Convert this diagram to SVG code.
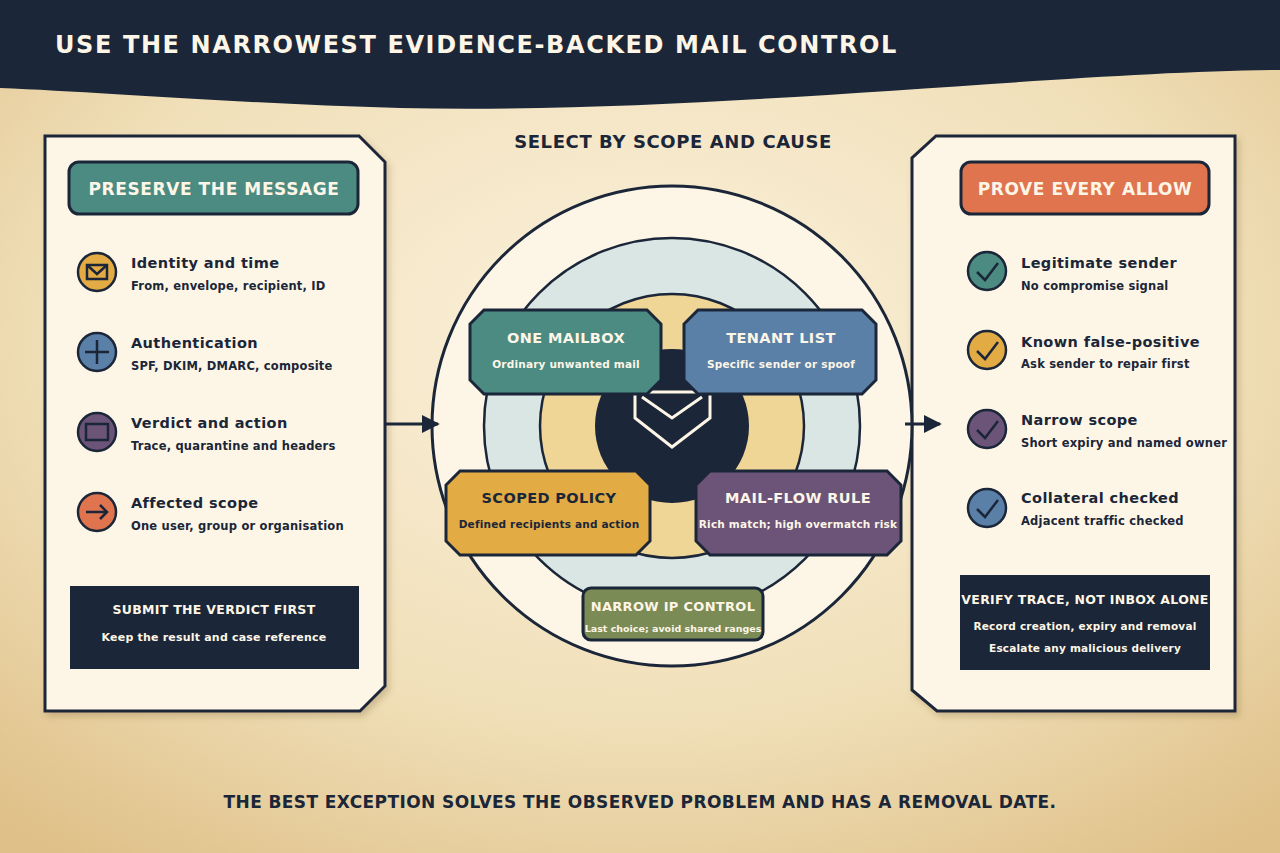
<svg xmlns="http://www.w3.org/2000/svg" width="1280" height="853" viewBox="0 0 1280 853">
<defs>
<radialGradient id="bg" cx="0.5" cy="0.4" r="0.75">
<stop offset="0" stop-color="#fbf1dc"/><stop offset="0.6" stop-color="#f0dfb8"/><stop offset="1" stop-color="#dfc088"/>
</radialGradient>
<marker id="ah" viewBox="0 0 10 10" refX="9" refY="5" markerWidth="18" markerHeight="18" orient="auto" markerUnits="userSpaceOnUse"><path d="M0,0L10,5L0,10z" fill="#1b2638"/></marker>
<filter id="sh" x="-10%" y="-10%" width="120%" height="120%"><feDropShadow dx="3" dy="4" stdDeviation="3" flood-color="#6b5020" flood-opacity="0.25"/></filter>
</defs>
<style>
text{font-family:"DejaVu Sans","Liberation Sans",sans-serif;font-weight:bold}
.panel{fill:#fdf6e7;stroke:#1b2638;stroke-width:3}
.ttl{fill:#1b2638;font-size:14.5px;letter-spacing:0.4px}
.sub{fill:#1b2638;font-size:11.5px;letter-spacing:0.2px}
.ic{stroke:#1b2638;stroke-width:2.5}
.gl{fill:none;stroke:#1b2638;stroke-width:2.5}
.node{stroke:#1b2638;stroke-width:3}
.nt{font-size:14.5px;text-anchor:middle;letter-spacing:0.4px}
.ns{font-size:10.5px;text-anchor:middle;letter-spacing:0.2px}
.w{fill:#fdf6e7}
.d{fill:#1b2638}
</style>
<rect width="1280" height="853" fill="url(#bg)"/>
<path d="M0,0H1280V70C1050,72 700,115 400,108C250,104 100,92 0,88Z" fill="#1b2638"/>
<text x="55" y="53" fill="#fdf6e7" font-size="24" letter-spacing="1.6">USE THE NARROWEST EVIDENCE-BACKED MAIL CONTROL</text>
<text x="673" y="148" fill="#1b2638" font-size="18" text-anchor="middle" letter-spacing="0.6">SELECT BY SCOPE AND CAUSE</text>
<text x="640" y="808" fill="#1b2638" font-size="17" text-anchor="middle" letter-spacing="0.4">THE BEST EXCEPTION SOLVES THE OBSERVED PROBLEM AND HAS A REMOVAL DATE.</text>

<g id="left-panel">
<path class="panel" filter="url(#sh)" d="M45,136H359L385,162V686L360,711H45Z"/>
<rect x="69" y="162" width="289" height="52" rx="10" fill="#4b8b82" stroke="#1b2638" stroke-width="3"/>
<text x="214" y="195" class="w" font-size="17" text-anchor="middle" letter-spacing="0.6">PRESERVE THE MESSAGE</text>
<circle cx="97" cy="272" r="19" fill="#e2ab44" class="ic"/>
<rect x="87" y="265" width="20" height="14" class="gl" stroke-width="2"/><path d="M87,265L97,274L107,265" class="gl" stroke-width="2"/>
<text x="131" y="268" class="ttl">Identity and time</text><text x="131" y="290" class="sub">From, envelope, recipient, ID</text>
<circle cx="97" cy="352" r="19" fill="#5a80a8" class="ic"/>
<path d="M85,352H109M97,340V364" class="gl" stroke-width="2"/>
<text x="131" y="348" class="ttl">Authentication</text><text x="131" y="370" class="sub">SPF, DKIM, DMARC, composite</text>
<circle cx="97" cy="432" r="19" fill="#6b5478" class="ic"/>
<rect x="86" y="424" width="22" height="16" class="gl" stroke-width="2"/>
<text x="131" y="428" class="ttl">Verdict and action</text><text x="131" y="450" class="sub">Trace, quarantine and headers</text>
<circle cx="97" cy="512" r="19" fill="#df744f" class="ic"/>
<path d="M86,512H107M100,505L107,512L100,519" class="gl" stroke-width="2"/>
<text x="131" y="508" class="ttl">Affected scope</text><text x="131" y="530" class="sub">One user, group or organisation</text>
<rect x="70" y="586" width="289" height="83" fill="#1b2638"/>
<text x="214" y="614" class="w" font-size="12.5" text-anchor="middle" letter-spacing="0.3">SUBMIT THE VERDICT FIRST</text>
<text x="214" y="641" class="w" font-size="11" text-anchor="middle" letter-spacing="0.2">Keep the result and case reference</text>
</g>

<g id="right-panel">
<path class="panel" filter="url(#sh)" d="M936,136H1235V711H937L912,690V158Z"/>
<rect x="961" y="162" width="248" height="52" rx="10" fill="#df744f" stroke="#1b2638" stroke-width="3"/>
<text x="1085" y="195" class="w" font-size="17" text-anchor="middle" letter-spacing="0.6">PROVE EVERY ALLOW</text>
<circle cx="987" cy="271" r="19" fill="#4b8b82" class="ic"/><path d="M977,272L985,280L998,263" class="gl"/>
<text x="1021" y="268" class="ttl">Legitimate sender</text><text x="1021" y="290" class="sub">No compromise signal</text>
<circle cx="987" cy="350" r="19" fill="#e2ab44" class="ic"/><path d="M977,351L985,359L998,342" class="gl"/>
<text x="1021" y="347" class="ttl">Known false-positive</text><text x="1021" y="368" class="sub">Ask sender to repair first</text>
<circle cx="987" cy="429" r="19" fill="#6b5478" class="ic"/><path d="M977,430L985,438L998,421" class="gl"/>
<text x="1021" y="425" class="ttl">Narrow scope</text><text x="1021" y="447" class="sub">Short expiry and named owner</text>
<circle cx="987" cy="508" r="19" fill="#5a80a8" class="ic"/><path d="M977,509L985,517L998,500" class="gl"/>
<text x="1021" y="503" class="ttl">Collateral checked</text><text x="1021" y="525" class="sub">Adjacent traffic checked</text>
<rect x="960" y="575" width="250" height="95" fill="#1b2638"/>
<text x="1085" y="604" class="w" font-size="12.5" text-anchor="middle" letter-spacing="0.3">VERIFY TRACE, NOT INBOX ALONE</text>
<text x="1085" y="630" class="w" font-size="10.5" text-anchor="middle" letter-spacing="0.2">Record creation, expiry and removal</text>
<text x="1085" y="652" class="w" font-size="10.5" text-anchor="middle" letter-spacing="0.2">Escalate any malicious delivery</text>
</g>

<g id="hub">
<circle cx="672" cy="426" r="240" fill="#fdf6e7" stroke="#1b2638" stroke-width="3"/>
<circle cx="672" cy="426" r="188" fill="#d9e6e4" stroke="#1b2638" stroke-width="2.5"/>
<circle cx="672" cy="426" r="132" fill="#efd596" stroke="#1b2638" stroke-width="2.5"/>
<circle cx="672" cy="426" r="77" fill="#1b2638"/>
<path d="M635,392H710V418L672,447L635,418Z" fill="none" stroke="#fdf6e7" stroke-width="3"/>
<path d="M642,397L672,418L702,397" fill="none" stroke="#fdf6e7" stroke-width="3"/>
</g>

<g id="connectors">
<line x1="385" y1="424" x2="438" y2="424" stroke="#1b2638" stroke-width="3" marker-end="url(#ah)"/>
<line x1="905" y1="424" x2="940" y2="424" stroke="#1b2638" stroke-width="3" marker-end="url(#ah)"/>
</g>

<g id="one-mailbox">
<path class="node" fill="#4b8b82" d="M484,310H647L661,324V380L647,394H484L470,380V324Z"/>
<text x="566" y="343" class="nt w">ONE MAILBOX</text><text x="566" y="368" class="ns w">Ordinary unwanted mail</text>
</g>
<g id="tenant-list">
<path class="node" fill="#5a80a8" d="M698,310H862L876,324V380L862,394H698L684,380V324Z"/>
<text x="781" y="343" class="nt w">TENANT LIST</text><text x="781" y="368" class="ns w">Specific sender or spoof</text>
</g>
<g id="scoped-policy">
<path class="node" fill="#e2ab44" d="M460,471H636L650,485V541L636,555H460L446,541V485Z"/>
<text x="549" y="503" class="nt d">SCOPED POLICY</text><text x="549" y="528" class="ns d">Defined recipients and action</text>
</g>
<g id="mail-flow-rule">
<path class="node" fill="#6b5478" d="M710,471H887L901,485V541L887,555H710L696,541V485Z"/>
<text x="798" y="503" class="nt w">MAIL-FLOW RULE</text><text x="798" y="528" class="ns w">Rich match; high overmatch risk</text>
</g>
<g id="narrow-ip">
<rect class="node" x="583" y="588" width="180" height="52" rx="8" fill="#7b8b55"/>
<text x="673" y="611" class="w" font-size="13" text-anchor="middle" letter-spacing="0.3">NARROW IP CONTROL</text>
<text x="673" y="632" class="w" font-size="9.5" text-anchor="middle">Last choice; avoid shared ranges</text>
</g>
</svg>
